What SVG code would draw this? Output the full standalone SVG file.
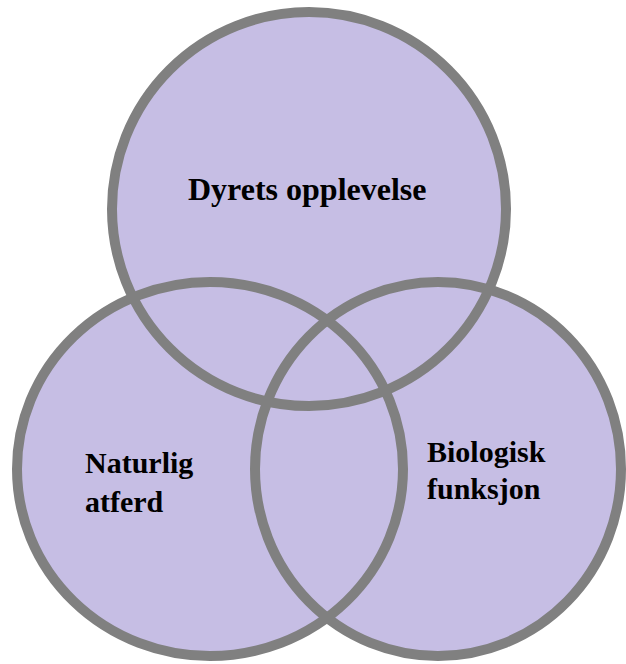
<svg xmlns="http://www.w3.org/2000/svg" width="626" height="664" viewBox="0 0 626 664">
  <style>
    .fill { fill: #C6BEE4; stroke: none; }
    .ring { fill: none; stroke: #808080; stroke-width: 10; }
    .label { font-family: "Liberation Serif", "Times New Roman", serif; font-weight: bold; fill: #000000; }
  </style>
  <rect x="0" y="0" width="626" height="664" fill="#ffffff"/>
  <g id="fills">
    <circle class="fill" cx="309" cy="209" r="197"/>
    <ellipse class="fill" cx="210" cy="469" rx="193" ry="187"/>
    <ellipse class="fill" cx="438" cy="469" rx="183" ry="187"/>
  </g>
  <g id="node-dyrets-opplevelse">
    <circle class="ring" cx="309" cy="209" r="197"/>
    <text class="label" x="188" y="200" font-size="32">Dyrets opplevelse</text>
  </g>
  <g id="node-naturlig-atferd">
    <ellipse class="ring" cx="210" cy="469" rx="193" ry="187"/>
    <text class="label" x="85" y="473" font-size="30">Naturlig</text>
    <text class="label" x="85" y="512" font-size="30">atferd</text>
  </g>
  <g id="node-biologisk-funksjon">
    <ellipse class="ring" cx="438" cy="469" rx="183" ry="187"/>
    <text class="label" x="427" y="462" font-size="30">Biologisk</text>
    <text class="label" x="427" y="499" font-size="30">funksjon</text>
  </g>
  <g id="connectors"/>
</svg>
